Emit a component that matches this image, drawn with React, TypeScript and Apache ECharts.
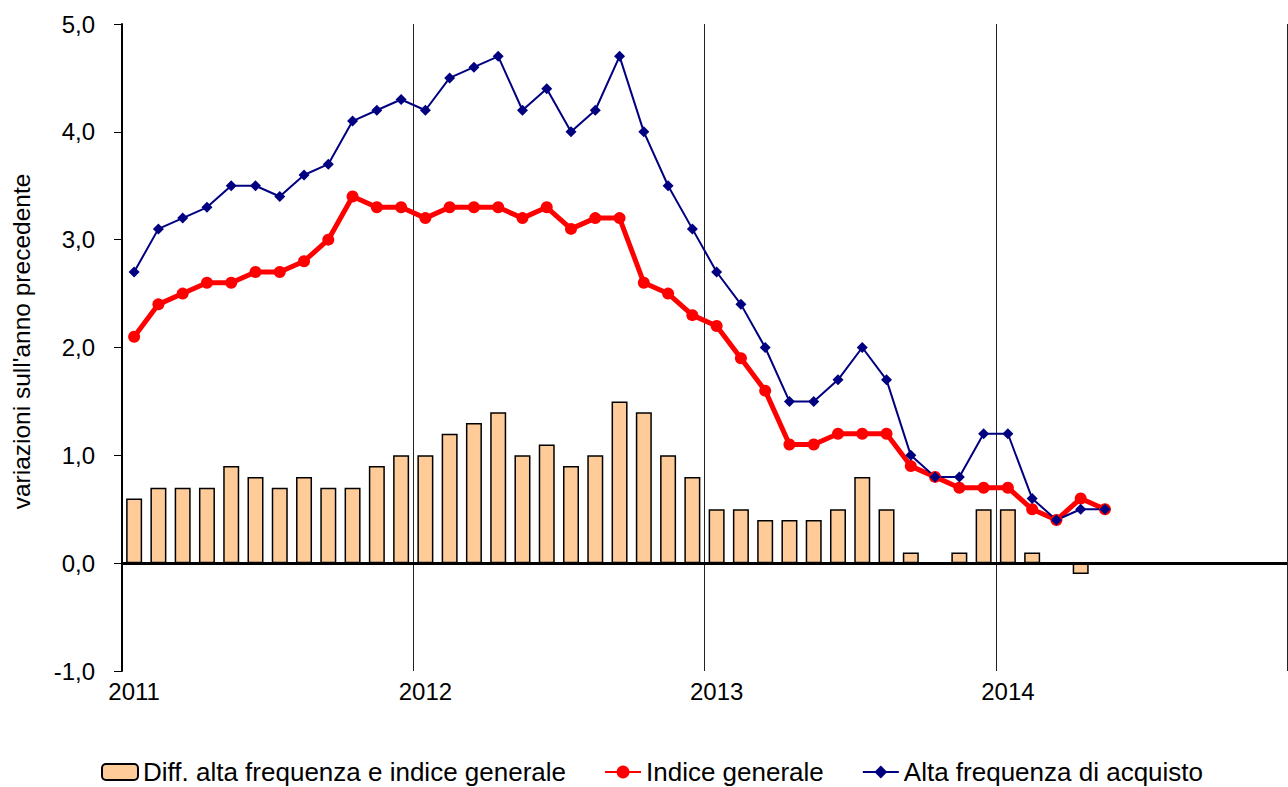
import React, { useEffect, useRef } from "react";
import * as echarts from "echarts";

const YEARS = ["2011", "2012", "2013", "2014"];
const MONTHS = ["gen", "feb", "mar", "apr", "mag", "giu", "lug", "ago", "set", "ott", "nov", "dic"];
const CATEGORIES = YEARS.flatMap((y) => MONTHS.map((m) => `${m} ${y}`));

const INDICE_GENERALE = [
  2.1, 2.4, 2.5, 2.6, 2.6, 2.7, 2.7, 2.8, 3.0, 3.4, 3.3, 3.3,
  3.2, 3.3, 3.3, 3.3, 3.2, 3.3, 3.1, 3.2, 3.2, 2.6, 2.5, 2.3,
  2.2, 1.9, 1.6, 1.1, 1.1, 1.2, 1.2, 1.2, 0.9, 0.8, 0.7, 0.7,
  0.7, 0.5, 0.4, 0.6, 0.5,
];

const ALTA_FREQUENZA = [
  2.7, 3.1, 3.2, 3.3, 3.5, 3.5, 3.4, 3.6, 3.7, 4.1, 4.2, 4.3,
  4.2, 4.5, 4.6, 4.7, 4.2, 4.4, 4.0, 4.2, 4.7, 4.0, 3.5, 3.1,
  2.7, 2.4, 2.0, 1.5, 1.5, 1.7, 2.0, 1.7, 1.0, 0.8, 0.8, 1.2,
  1.2, 0.6, 0.4, 0.5, 0.5,
];

const DIFFERENZA = [
  0.6, 0.7, 0.7, 0.7, 0.9, 0.8, 0.7, 0.8, 0.7, 0.7, 0.9, 1.0,
  1.0, 1.2, 1.3, 1.4, 1.0, 1.1, 0.9, 1.0, 1.5, 1.4, 1.0, 0.8,
  0.5, 0.5, 0.4, 0.4, 0.4, 0.5, 0.8, 0.5, 0.1, 0.0, 0.1, 0.5,
  0.5, 0.1, 0.0, -0.1, 0.0,
];

const FONT = '"Liberation Sans", Arial, sans-serif';

export default function App() {
  const ref = useRef<HTMLDivElement>(null);

  useEffect(() => {
    if (!ref.current) return;
    const chart = echarts.init(ref.current, null, { renderer: "svg" });
    chart.setOption({
      animation: false,
      backgroundColor: "#ffffff",
      textStyle: { fontFamily: FONT, color: "#000" },
      grid: { left: 122, top: 24, width: 1165, height: 647, containLabel: false },
      legend: {
        left: 96,
        top: 754,
        itemWidth: 36,
        itemHeight: 16,
        itemGap: 38,
        textStyle: { fontFamily: FONT, fontSize: 26, color: "#000" },
        data: [
          { name: "Diff. alta frequenza e indice generale" },
          { name: "Indice generale" },
          { name: "Alta frequenza di acquisto" },
        ],
      },
      xAxis: [
        {
          type: "category",
          data: CATEGORIES,
          boundaryGap: true,
          position: "bottom",
          axisLine: { show: false, onZero: false },
          axisTick: { show: false },
          splitLine: { show: false },
          axisLabel: {
            interval: 11,
            margin: 8,
            fontSize: 24,
            fontFamily: FONT,
            color: "#000",
            formatter: (v: string) => v.split(" ")[1],
          },
        },
        {
          type: "value",
          min: 0,
          max: 48,
          interval: 12,
          position: "bottom",
          axisLine: { show: false },
          axisTick: { show: false },
          axisLabel: { show: false },
          splitLine: { show: true, lineStyle: { color: "#222", width: 1 } },
        },
      ],
      yAxis: {
        type: "value",
        min: -1,
        max: 5,
        interval: 1,
        name: "variazioni sull'anno precedente",
        nameLocation: "middle",
        nameRotate: 90,
        nameGap: 88,
        nameTextStyle: { fontSize: 24.5, fontFamily: FONT, color: "#000", padding: [0, 0, 0, 12] },
        axisLine: { show: true, onZero: false, lineStyle: { color: "#000", width: 2 } },
        axisTick: { show: true, inside: false, length: 8, lineStyle: { color: "#000", width: 1 } },
        splitLine: { show: false },
        axisLabel: {
          margin: 27,
          fontSize: 24,
          fontFamily: FONT,
          color: "#000",
          formatter: (v: number) => v.toFixed(1).replace(".", ","),
        },
      },
      series: [
        {
          name: "Diff. alta frequenza e indice generale",
          type: "bar",
          xAxisIndex: 0,
          data: DIFFERENZA,
          barWidth: 16,
          itemStyle: { color: "#FFCC99", borderColor: "#000", borderWidth: 1.5 },
          markLine: {
            silent: true,
            symbol: "none",
            label: { show: false },
            lineStyle: { color: "#000", width: 3, type: "solid" },
            data: [{ yAxis: 0 }],
          },
        },
        {
          name: "Indice generale",
          type: "line",
          xAxisIndex: 0,
          data: INDICE_GENERALE,
          symbol: "circle",
          symbolSize: 12,
          lineStyle: { color: "#FF0000", width: 5 },
          itemStyle: { color: "#FF0000" },
        },
        {
          name: "Alta frequenza di acquisto",
          type: "line",
          xAxisIndex: 0,
          data: ALTA_FREQUENZA,
          symbol: "diamond",
          symbolSize: 11,
          lineStyle: { color: "#000080", width: 2 },
          itemStyle: { color: "#000080" },
        },
      ],
    });
    return () => chart.dispose();
  }, []);

  return (
    <div
      ref={ref}
      style={{ position: "fixed", left: 0, top: 0, width: 1288, height: 787, background: "#fff" }}
    />
  );
}
